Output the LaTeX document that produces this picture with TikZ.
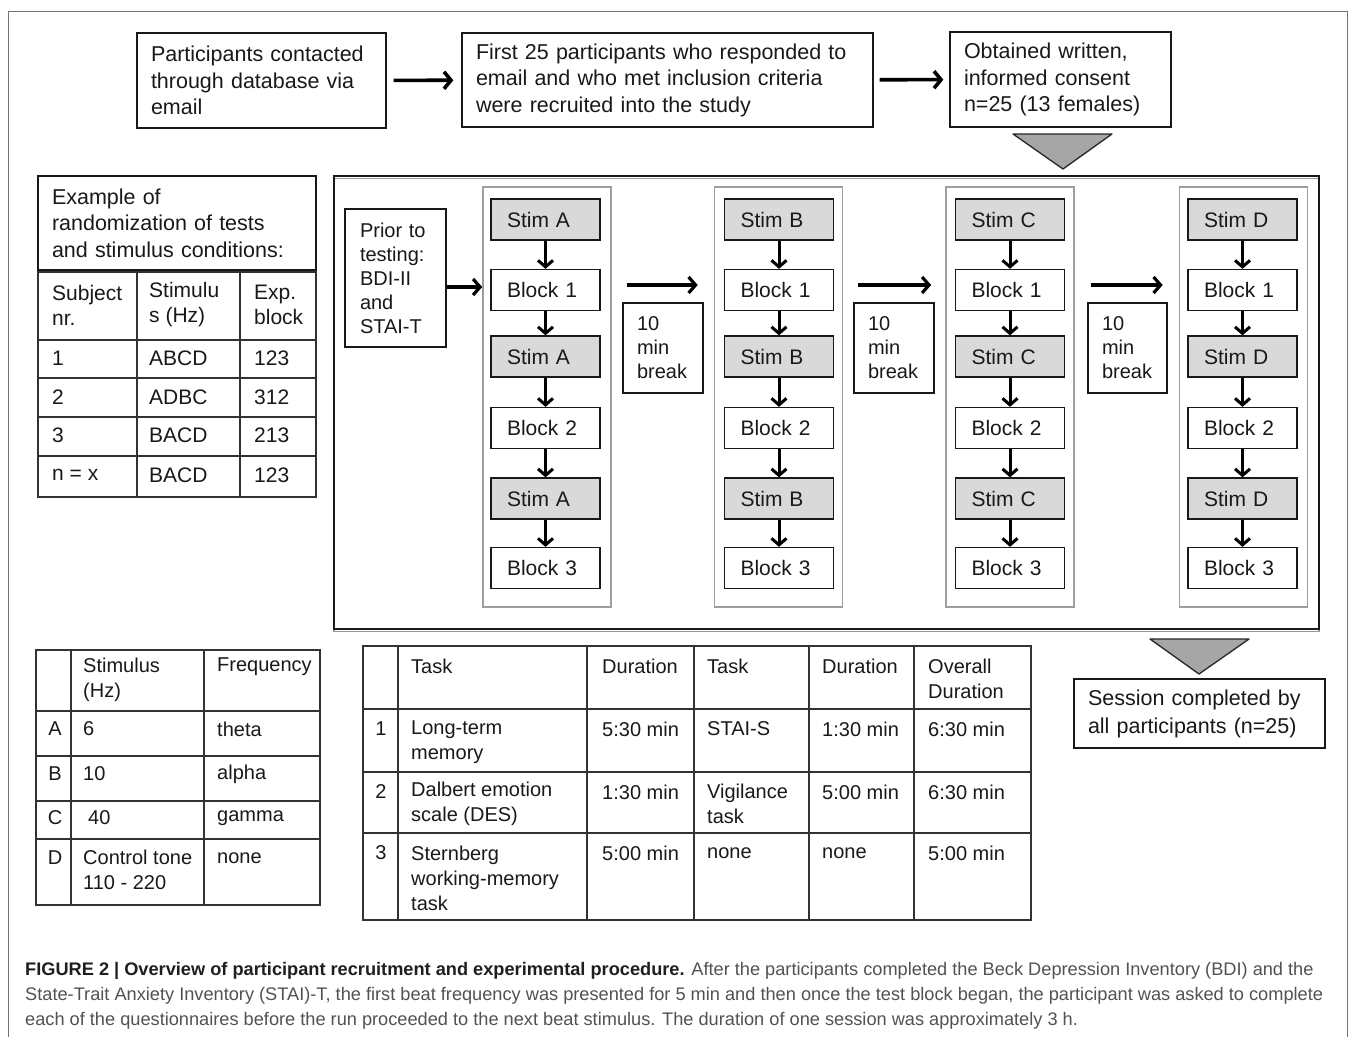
\documentclass[tikz,border=0pt]{standalone}
\usepackage{fontspec}
\setmainfont{Liberation Sans}
\usetikzlibrary{arrows.meta,calc}
\hyphenpenalty=10000
\exhyphenpenalty=10000
\newcommand\myfs[2]{\fontsize{#1}{#2}\selectfont}
\begin{document}
\begin{tikzpicture}[x=1pt,y=-1pt,
 box/.style={draw=black!90, line width=1.3pt, inner sep=0pt, align=left, text=black!90},
 stim/.style={box, fill=black!15},
 grp/.style={draw=black!38, line width=1.6pt, inner sep=0pt},
 wh/.style 2 args={minimum width=#1pt, minimum height=#2pt},
 tw/.style={text width=#1pt},
 fbig/.style={font=\myfs{21.5}{26.5}},
 fcol/.style={font=\myfs{21}{25}},
 fmid/.style={font=\myfs{20}{24}},
 tbl/.style={draw=black!80, line width=1.4pt},
 cellA/.style={inner sep=0pt, align=left, anchor=west, font=\myfs{21}{25}, text=black!90},
 cellB/.style={inner sep=0pt, align=left, anchor=west, font=\myfs{20}{25}, text=black!90},
 tarr/.style={draw=black, line width=3.6pt, -{Straight Barb[length=7pt,width=17pt]}},
 harr/.style={draw=black, line width=3.2pt, -{Straight Barb[length=7pt,width=16pt]}},
 varr/.style={draw=black, line width=3pt, -{Straight Barb[length=6.5pt,width=15pt]}},
 tri/.style={draw=black!85, line width=1.3pt, fill=black!35, line join=round}
]
\useasboundingbox[fill=white] (0,0) rectangle (1353,1037);
% outer figure frame
\draw[black!55, line width=1pt] (8,1037) -- (8,11) -- (1347,11) -- (1347,1037);

% recruitment boxes
\node[box, wh={249}{95}, tw=221, fbig] (rec1) at (261.5,80.5) {Participants~contacted\\through~database~via\\email};
\node[box, wh={411}{94}, tw=383, fbig] (rec2) at (667.5,80) {First~25~participants~who~responded~to\\email~and~who~met~inclusion~criteria\\were~recruited~into~the~study};
\node[box, wh={221}{95}, tw=193, fbig] (rec3) at (1060.5,79.5) {Obtained~written,\\informed~consent\\n=25~(13~females)};
\draw[tarr, shorten <=7pt, shorten >=8pt] (rec1) -- (rec2);
\draw[tarr, shorten <=6pt, shorten >=6pt] (rec2) -- (rec3);
\draw[tri] (1013,134) -- (1112,134) -- (1063,169) -- cycle;

% example box
\node[box, wh={278}{94}, tw=250, fbig] (ex) at (177,223) {Example~of\\randomization~of~tests\\and~stimulus~conditions:};

% randomization table
\draw[tbl] (38,272) rectangle (316,497);
\foreach \x in {137,240} \draw[tbl] (\x,272) -- (\x,497);
\foreach \y in {340,378,417,456} \draw[tbl] (38,\y) -- (316,\y);
\node[cellA] (ra1) at (52,305) {Subject\\nr.};
\node[cellA] (ra2) at (149,305) {Stimulu\\s (Hz)};
\node[cellA] (ra3) at (254,305) {Exp.\\block};
\foreach \r/\y/\a/\b/\c in {1/358/1/ABCD/123, 2/397/2/ADBC/312, 3/435/3/BACD/213, 4/475/n = x/BACD/123}{
  \node[cellA] (rb\r) at (52,\y) {\a};
  \node[cellA] (rc\r) at (149,\y) {\b};
  \node[cellA] (rd\r) at (254,\y) {\c};
}

% experimental frame
\draw[black!40, line width=1.2pt] (334,178.5) rectangle (1319,631.5);
\node[draw=black!90, line width=1.5pt, wh={985}{453}] (frame) at (826.5,402.5) {};
\node[box, wh={101}{138}, tw=71, fmid] (prior) at (395.5,278) {Prior~to\\testing:\\BDI-II\\and\\STAI-T};

\foreach \L/\gx/\bx in {A/547/545.5, B/778.5/779, C/1010/1010, D/1243.5/1242.5}{
  \node[grp, wh={128}{420}] (g\L) at (\gx,397) {};
  \node[stim, wh={109}{41}, tw=77, fcol] (s1\L) at (\bx,219.5) {Stim~\L};
  \node[box,  wh={109}{41}, tw=77, fcol] (b1\L) at (\bx,290) {Block~1};
  \node[stim, wh={109}{41}, tw=77, fcol] (s2\L) at (\bx,356.5) {Stim~\L};
  \node[box,  wh={109}{41}, tw=77, fcol] (b2\L) at (\bx,428) {Block~2};
  \node[stim, wh={109}{41}, tw=77, fcol] (s3\L) at (\bx,498.5) {Stim~\L};
  \node[box,  wh={109}{41}, tw=77, fcol] (b3\L) at (\bx,568) {Block~3};
  \draw[varr] (s1\L) -- (b1\L);
  \draw[varr] (b1\L) -- (s2\L);
  \draw[varr] (s2\L) -- (b2\L);
  \draw[varr] (b2\L) -- (s3\L);
  \draw[varr] (s3\L) -- (b3\L);
}
\coordinate (yp) at (0,287);
\coordinate (yh) at (0,285);
\draw[harr] (prior.east |- yp) -- (gA.west |- yp);
\draw[harr, shorten <=15pt, shorten >=16pt] (gA.east |- yh) -- (gB.west |- yh);
\draw[harr, shorten <=15pt, shorten >=14pt] (gB.east |- yh) -- (gC.west |- yh);
\draw[harr, shorten <=16pt, shorten >=16pt] (gC.east |- yh) -- (gD.west |- yh);
\node[box, wh={80}{90}, tw=52, fmid] (brk1) at (663,348) {10\\min\\break};
\node[box, wh={80}{90}, tw=52, fmid] (brk2) at (894,348) {10\\min\\break};
\node[box, wh={79}{90}, tw=51, fmid] (brk3) at (1127.5,348) {10\\min\\break};

% session completed
\draw[tri] (1150,639) -- (1249,639) -- (1199,674) -- cycle;
\node[box, wh={251}{69}, tw=223, font=\myfs{21.5}{28}] (sess) at (1199.5,713.5) {Session~completed~by\\all~participants~(n=25)};

% stimulus table
\draw[tbl] (36,650) rectangle (320,905);
\foreach \x in {71,204} \draw[tbl] (\x,650) -- (\x,905);
\foreach \y in {711,756,801,839} \draw[tbl] (36,\y) -- (320,\y);
\node[cellB] (sh1) at (83,680) {Stimulus\\(Hz)};
\node[cellB] (sh2) at (217,667) {Frequency};
\node[cellB, anchor=center] (sa0) at (55,729) {A};
\node[cellB] (sa1) at (83,729) {6};
\node[cellB] (sa2) at (217,729) {theta};
\node[cellB, anchor=center] (sb0) at (55,774) {B};
\node[cellB] (sb1) at (83,774) {10};
\node[cellB] (sb2) at (217,774) {alpha};
\node[cellB, anchor=center] (sc0) at (55,818) {C};
\node[cellB] (sc1) at (88,818) {40};
\node[cellB] (sc2) at (217,818) {gamma};
\node[cellB, anchor=center] (sd0) at (55,858) {D};
\node[cellB] (sd1) at (83,870) {Control tone\\110 - 220};
\node[cellB] (sd2) at (217,858) {none};

% task table
\draw[tbl] (363,646) rectangle (1031,920);
\foreach \x in {398,587,694,809,914} \draw[tbl] (\x,646) -- (\x,920);
\foreach \y in {709,772,833} \draw[tbl] (363,\y) -- (1031,\y);
\node[cellB] (th1) at (411,666) {Task};
\node[cellB] (th2) at (602,666) {Duration};
\node[cellB] (th3) at (707,666) {Task};
\node[cellB] (th4) at (822,666) {Duration};
\node[cellB] (th5) at (928,679) {Overall\\Duration};
\node[cellB, anchor=center] (t10) at (381,729) {1};
\node[cellB] (t11) at (411,742) {Long-term\\memory};
\node[cellB] (t12) at (602,729) {5:30 min};
\node[cellB] (t13) at (707,729) {STAI-S};
\node[cellB] (t14) at (822,729) {1:30 min};
\node[cellB] (t15) at (928,729) {6:30 min};
\node[cellB, anchor=center] (t20) at (381,792) {2};
\node[cellB] (t21) at (411,804) {Dalbert emotion\\scale (DES)};
\node[cellB] (t22) at (602,792) {1:30 min};
\node[cellB] (t23) at (707,804) {Vigilance\\task};
\node[cellB] (t24) at (822,792) {5:00 min};
\node[cellB] (t25) at (928,792) {6:30 min};
\node[cellB, anchor=center] (t30) at (381,853) {3};
\node[cellB] (t31) at (411,878) {Sternberg\\working-memory\\task};
\node[cellB] (t32) at (602,853) {5:00 min};
\node[cellB] (t33) at (707,853) {none};
\node[cellB] (t34) at (822,853) {none};
\node[cellB] (t35) at (928,853) {5:00 min};

% caption
\node[inner sep=0pt, anchor=west, align=left, font=\myfs{18.2}{25}, text=black!68] (cap) at (25,996)
 {\textcolor{black!88}{\textbf{FIGURE 2 | Overview of participant recruitment and experimental procedure.}} After the participants completed the Beck Depression Inventory (BDI) and the\\
 State-Trait Anxiety Inventory (STAI)-T, the first beat frequency was presented for 5 min and then once the test block began, the participant was asked to complete\\
 each of the questionnaires before the run proceeded to the next beat stimulus. The duration of one session was approximately 3 h.};
\end{tikzpicture}
\end{document}
